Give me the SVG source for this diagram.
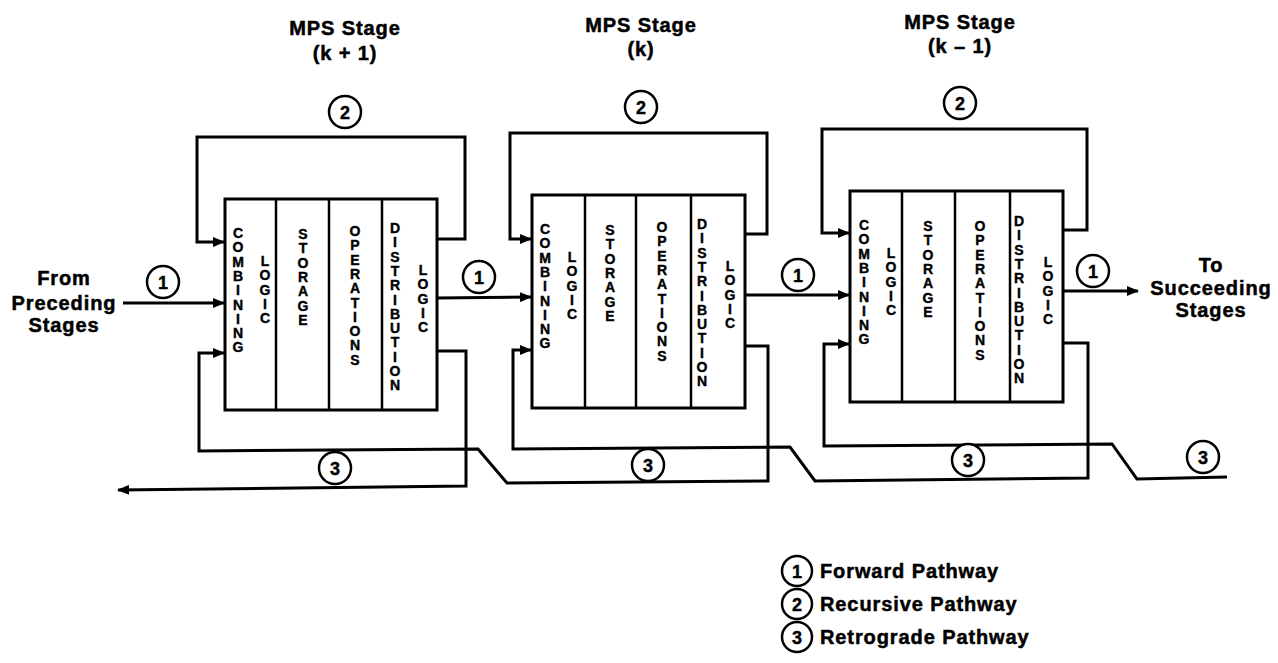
<svg xmlns="http://www.w3.org/2000/svg" width="1278" height="663" viewBox="0 0 1278 663">
<style>
.lbl{font-family:"Liberation Sans",Arial,sans-serif;font-weight:bold;font-size:20px;letter-spacing:0.9px;text-anchor:middle;fill:#000;stroke:#000;stroke-width:0.5px}
.leg{font-family:"Liberation Sans",Arial,sans-serif;font-weight:bold;font-size:20px;letter-spacing:0.9px;fill:#000;stroke:#000;stroke-width:0.5px}
.col{font-family:"Liberation Sans",Arial,sans-serif;font-weight:bold;font-size:14px;text-anchor:middle;fill:#000;stroke:#000;stroke-width:0.4px}
.num{font-family:"Liberation Sans",Arial,sans-serif;font-weight:bold;font-size:18px;text-anchor:middle;fill:#000;stroke:#000;stroke-width:0.4px}
.wire{fill:none;stroke:#000;stroke-width:3;stroke-linejoin:miter}
.box{fill:#fff;stroke:#000;stroke-width:3}
.dv{stroke:#000;stroke-width:2.5}
.circ{fill:#fff;stroke:#000;stroke-width:2.5}
</style>
<defs>
<marker id="ah" viewBox="0 0 12 10" refX="11" refY="5" markerWidth="12" markerHeight="10" markerUnits="userSpaceOnUse" orient="auto"><path d="M0,0 L12,5 L0,10 z" fill="#000"/></marker>
</defs>
<rect width="1278" height="663" fill="#fff"/>

<g id="connectors">
<path class="wire" d="M437,239 H465 V137 H197 V242 H224" marker-end="url(#ah)"/>
<path class="wire" d="M745,234 H767 V133 H510 V239 H531" marker-end="url(#ah)"/>
<path class="wire" d="M1063,230 H1087 V129 H822 V233 H849" marker-end="url(#ah)"/>
<path class="wire" d="M123,303 H224" marker-end="url(#ah)"/>
<path class="wire" d="M437,298 L531,297" marker-end="url(#ah)"/>
<path class="wire" d="M745,295 L849,295" marker-end="url(#ah)"/>
<path class="wire" d="M1063,291 H1138" marker-end="url(#ah)"/>
<path class="wire" d="M437,351 H466 V486 L118,490" marker-end="url(#ah)"/>
<path class="wire" d="M745,346 H768 V481 L507,483 L478,449 L199,451 V353 H224" marker-end="url(#ah)"/>
<path class="wire" d="M1063,343 H1088 V478 L815,481 L790,447 L513,449 V350 H531" marker-end="url(#ah)"/>
<path class="wire" d="M1227,477 L1137,479 L1112,444 L824,446 V344 H849" marker-end="url(#ah)"/>
<circle class="circ" cx="163" cy="282" r="16"/><text class="num" x="163" y="288.5">1</text>
<circle class="circ" cx="479" cy="277" r="16"/><text class="num" x="479" y="283.5">1</text>
<circle class="circ" cx="798" cy="275" r="16"/><text class="num" x="798" y="281.5">1</text>
<circle class="circ" cx="1093" cy="271" r="16"/><text class="num" x="1093" y="277.5">1</text>
<circle class="circ" cx="345" cy="112" r="16"/><text class="num" x="345" y="118.5">2</text>
<circle class="circ" cx="641" cy="107" r="16"/><text class="num" x="641" y="113.5">2</text>
<circle class="circ" cx="960" cy="103" r="16"/><text class="num" x="960" y="109.5">2</text>
<circle class="circ" cx="335" cy="468" r="16"/><text class="num" x="335" y="474.5">3</text>
<circle class="circ" cx="648" cy="465" r="16"/><text class="num" x="648" y="471.5">3</text>
<circle class="circ" cx="968" cy="460" r="16"/><text class="num" x="968" y="466.5">3</text>
<circle class="circ" cx="1203" cy="457" r="16"/><text class="num" x="1203" y="463.5">3</text>
</g>

<g id="stage-k-plus-1">
<text class="lbl" x="345" y="35">MPS Stage</text>
<text class="lbl" x="345" y="60">(k + 1)</text>
<rect class="box" x="225" y="199" width="212" height="211"/>
<line class="dv" x1="276" y1="199" x2="276" y2="410"/>
<line class="dv" x1="329" y1="199" x2="329" y2="410"/>
<line class="dv" x1="382" y1="199" x2="382" y2="410"/>
<text class="col" x="238 238 238 238 238 238 238 238 238" y="238 252.3 266.6 280.9 295.2 309.5 323.8 338.1 352.4">COMBINING</text>
<text class="col" x="265 265 265 265 265" y="266 280.3 294.6 308.9 323.2">LOGIC</text>
<text class="col" x="303 303 303 303 303 303 303" y="239 253.3 267.6 281.9 296.2 310.5 324.8">STORAGE</text>
<text class="col" x="355 355 355 355 355 355 355 355 355 355" y="236 250.3 264.6 278.9 293.2 307.5 321.8 336.1 350.4 364.7">OPERATIONS</text>
<text class="col" x="395 395 395 395 395 395 395 395 395 395 395 395" y="233 247.3 261.6 275.9 290.2 304.5 318.8 333.1 347.4 361.7 376 390.3">DISTRIBUTION</text>
<text class="col" x="423 423 423 423 423" y="275 289.3 303.6 317.9 332.2">LOGIC</text>
</g>

<g id="stage-k">
<text class="lbl" x="641" y="32">MPS Stage</text>
<text class="lbl" x="641" y="56">(k)</text>
<rect class="box" x="532" y="195" width="213" height="213"/>
<line class="dv" x1="585" y1="195" x2="585" y2="408"/>
<line class="dv" x1="636" y1="195" x2="636" y2="408"/>
<line class="dv" x1="691" y1="195" x2="691" y2="408"/>
<text class="col" x="545 545 545 545 545 545 545 545 545" y="234 248.3 262.6 276.9 291.2 305.5 319.8 334.1 348.4">COMBINING</text>
<text class="col" x="572 572 572 572 572" y="262 276.3 290.6 304.9 319.2">LOGIC</text>
<text class="col" x="610 610 610 610 610 610 610" y="235 249.3 263.6 277.9 292.2 306.5 320.8">STORAGE</text>
<text class="col" x="662 662 662 662 662 662 662 662 662 662" y="232 246.3 260.6 274.9 289.2 303.5 317.8 332.1 346.4 360.7">OPERATIONS</text>
<text class="col" x="702 702 702 702 702 702 702 702 702 702 702 702" y="229 243.3 257.6 271.9 286.2 300.5 314.8 329.1 343.4 357.7 372 386.3">DISTRIBUTION</text>
<text class="col" x="730 730 730 730 730" y="271 285.3 299.6 313.9 328.2">LOGIC</text>
</g>

<g id="stage-k-minus-1">
<text class="lbl" x="960" y="29">MPS Stage</text>
<text class="lbl" x="960" y="53">(k – 1)</text>
<rect class="box" x="850" y="191" width="213" height="211"/>
<line class="dv" x1="902" y1="191" x2="902" y2="402"/>
<line class="dv" x1="955" y1="191" x2="955" y2="402"/>
<line class="dv" x1="1010" y1="191" x2="1010" y2="402"/>
<text class="col" x="864 864 864 864 864 864 864 864 864" y="230 244.3 258.6 272.9 287.2 301.5 315.8 330.1 344.4">COMBINING</text>
<text class="col" x="891 891 891 891 891" y="258 272.3 286.6 300.9 315.2">LOGIC</text>
<text class="col" x="928 928 928 928 928 928 928" y="231 245.3 259.6 273.9 288.2 302.5 316.8">STORAGE</text>
<text class="col" x="980 980 980 980 980 980 980 980 980 980" y="231 245.3 259.6 273.9 288.2 302.5 316.8 331.1 345.4 359.7">OPERATIONS</text>
<text class="col" x="1019 1019 1019 1019 1019 1019 1019 1019 1019 1019 1019 1019" y="226 240.3 254.6 268.9 283.2 297.5 311.8 326.1 340.4 354.7 369 383.3">DISTRIBUTION</text>
<text class="col" x="1048 1048 1048 1048 1048" y="267 281.3 295.6 309.9 324.2">LOGIC</text>
</g>

<g id="from-preceding">
<text class="lbl" x="64" y="285">From</text>
<text class="lbl" x="64" y="310">Preceding</text>
<text class="lbl" x="64" y="332">Stages</text>
</g>

<g id="to-succeeding">
<text class="lbl" x="1211" y="272">To</text>
<text class="lbl" x="1211" y="295">Succeeding</text>
<text class="lbl" x="1211" y="317">Stages</text>
</g>

<g id="legend">
<circle class="circ" cx="797" cy="571" r="15"/><text class="num" x="797" y="577.5">1</text>
<text class="leg" x="820" y="578">Forward Pathway</text>
<circle class="circ" cx="797" cy="604" r="15"/><text class="num" x="797" y="610.5">2</text>
<text class="leg" x="820" y="611">Recursive Pathway</text>
<circle class="circ" cx="797" cy="637" r="15"/><text class="num" x="797" y="643.5">3</text>
<text class="leg" x="820" y="644">Retrograde Pathway</text>
</g>
</svg>
